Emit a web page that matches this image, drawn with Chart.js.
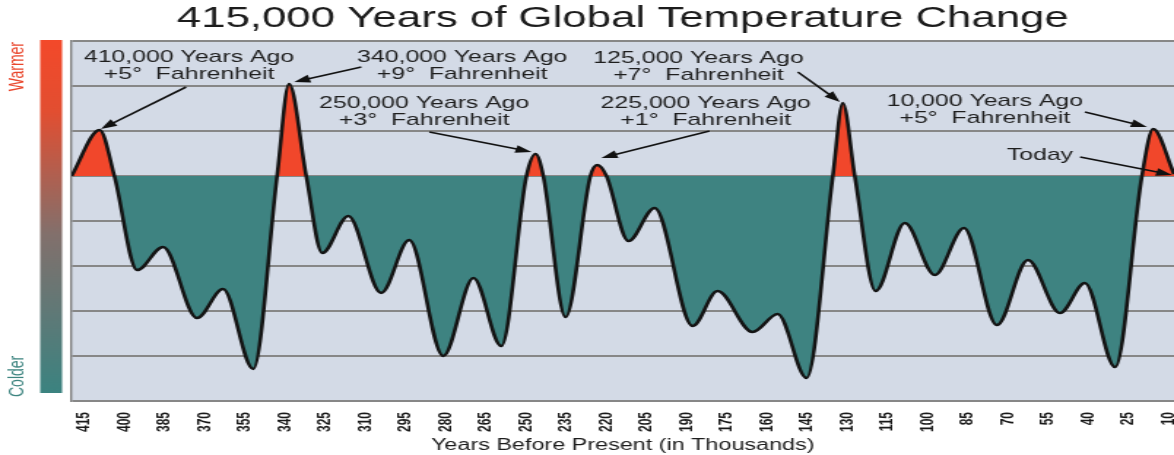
<!DOCTYPE html>
<html>
<head>
<meta charset="utf-8">
<title>415,000 Years of Global Temperature Change</title>
<script src="https://cdn.jsdelivr.net/npm/chart.js@4.4.1/dist/chart.umd.min.js"></script>
<style>
  html, body { margin: 0; padding: 0; background: #fff; overflow: hidden; }
  /* the original picture is stretched sideways, so the whole chart is too */
  #wrap { width: 804px; height: 455px; transform: scaleX(1.4602); transform-origin: 0 0; }
</style>
</head>
<body>
<div id="wrap"><canvas id="chart" width="804" height="455"></canvas></div>
<script>
// thousands of years before present
let years = [420, 409.5, 404, 395.5, 385.8, 373.1, 363.4, 352.1, 343.2, 338.7, 332.3,
             326.3, 316.6, 304.3, 293.8, 281.1, 269.8, 259.4, 250, 246.6, 243.7,
             235.4, 226.1, 223.5, 220.1, 211.9, 202.1, 187.9, 178.6, 165.5, 156.1,
             145.3, 135.5, 131.8, 127.3, 119.5, 108.6, 97.4, 86.5, 74.2, 62.6,
             50.6, 41.3, 30, 20, 15.8, 8]
// degrees Fahrenheit compared with today
let temps = [0, 4.6, 0, -9.4, -7.1, -14.2, -11.3, -19.3, 0, 9.2, 0,
             -7.7, -4.0, -11.7, -6.4, -18.0, -10.2, -17.0, 0, 2.2, 0,
             -14.1, 0, 1.1, 0, -6.5, -3.2, -15.0, -11.5, -15.6, -13.8,
             -20.2, 0, 7.3, 0, -11.5, -4.7, -9.9, -5.2, -14.9, -8.4,
             -13.7, -10.7, -19.1, 0, 4.7, 0.2]

let tickYears = [415, 400, 385, 370, 355, 340, 325, 310, 295, 280, 265, 250, 235, 220,
                 205, 190, 175, 160, 145, 130, 115, 100, 85, 70, 55, 40, 25, 10]

// text, where it sits (years, degrees) and where its arrow goes
let notes = [
  { lines: ['410,000 Years Ago', '+5°  Fahrenheit'], at: [376.1, 11.9], from: [377.2, 8.9], to: [409, 4.7] },
  { lines: ['340,000 Years Ago', '+9°  Fahrenheit'], at: [274.0, 11.9], from: [311.7, 10.9], to: [336.8, 9.4] },
  { lines: ['250,000 Years Ago', '+3°  Fahrenheit'], at: [288.2, 7.3], from: [286.3, 4.4], to: [248.1, 2.4] },
  { lines: ['225,000 Years Ago', '+1°  Fahrenheit'], at: [183.0, 7.3], from: [181.6, 4.5], to: [222, 1.8] },
  { lines: ['125,000 Years Ago', '+7°  Fahrenheit'], at: [185.7, 11.8], from: [148.6, 10.4], to: [132.9, 7.4] },
  { lines: ['10,000 Years Ago', '+5°  Fahrenheit'], at: [78.7, 7.5], from: [41.3, 6.4], to: [18.1, 4.9] },
  { lines: ['Today'], at: [58.1, 2.1], from: [43.1, 1.9], to: [8.7, 0.1] }
]

Chart.defaults.font.family = '"Liberation Sans", Arial, sans-serif'
Chart.defaults.color = '#222'

let points = years.map((y, i) => ({ x: y, y: temps[i] }))

let backdrop = {
  id: 'backdrop',
  beforeDraw(chart) {
    let ctx = chart.ctx
    let a = chart.chartArea
    ctx.save()
    ctx.fillStyle = '#d3dae6'
    ctx.fillRect(a.left, a.top, a.right - a.left, a.bottom - a.top)

    let g = ctx.createLinearGradient(0, a.top, 0, a.bottom - 8)
    g.addColorStop(0, '#f3492a')
    g.addColorStop(0.2, '#e24e31')
    g.addColorStop(0.55, '#82706c')
    g.addColorStop(0.8, '#5b7a78')
    g.addColorStop(1, '#3b8380')
    ctx.fillStyle = g
    ctx.fillRect(27.5, a.top - 1, 15, a.bottom - a.top - 7)

    ctx.font = '14px "Liberation Sans", Arial, sans-serif'
    ctx.textBaseline = 'middle'
    ctx.save()
    ctx.translate(12.5, a.top + 1)
    ctx.rotate(-Math.PI / 2)
    ctx.textAlign = 'right'
    ctx.fillStyle = '#e9462c'
    ctx.fillText('Warmer', 0, 0)
    ctx.restore()
    ctx.save()
    ctx.translate(12.5, a.bottom - 4)
    ctx.rotate(-Math.PI / 2)
    ctx.textAlign = 'left'
    ctx.fillStyle = '#3e8580'
    ctx.fillText('Colder', 0, 0)
    ctx.restore()
    ctx.restore()
  }
}

let callouts = {
  id: 'callouts',
  afterDatasetsDraw(chart) {
    let ctx = chart.ctx
    let sx = chart.scales.x
    let sy = chart.scales.y
    ctx.save()
    ctx.font = '17px "Liberation Sans", Arial, sans-serif'
    ctx.fillStyle = '#1e1e1e'
    ctx.strokeStyle = '#111'
    ctx.textAlign = 'center'
    ctx.textBaseline = 'middle'
    notes.forEach(n => {
      let tx = sx.getPixelForValue(n.at[0])
      let ty = sy.getPixelForValue(n.at[1])
      n.lines.forEach((l, i) => ctx.fillText(l, tx, ty + i * 17))

      let x1 = sx.getPixelForValue(n.from[0]), y1 = sy.getPixelForValue(n.from[1])
      let x2 = sx.getPixelForValue(n.to[0]), y2 = sy.getPixelForValue(n.to[1])
      let ang = Math.atan2(y2 - y1, x2 - x1)
      let len = 11, half = 4
      ctx.lineWidth = 1.6
      ctx.beginPath()
      ctx.moveTo(x1, y1)
      ctx.lineTo(x2 - Math.cos(ang) * len * 0.8, y2 - Math.sin(ang) * len * 0.8)
      ctx.stroke()
      ctx.beginPath()
      ctx.moveTo(x2, y2)
      ctx.lineTo(x2 - Math.cos(ang) * len - Math.sin(ang) * half, y2 - Math.sin(ang) * len + Math.cos(ang) * half)
      ctx.lineTo(x2 - Math.cos(ang) * len + Math.sin(ang) * half, y2 - Math.sin(ang) * len - Math.cos(ang) * half)
      ctx.closePath()
      ctx.fillStyle = '#111'
      ctx.fill()
      ctx.fillStyle = '#1e1e1e'
    })
    ctx.restore()
  }
}

new Chart(document.getElementById('chart'), {
  type: 'line',
  data: {
    datasets: [{
      data: points,
      borderColor: '#141414',
      borderWidth: 2.6,
      pointRadius: 0,
      cubicInterpolationMode: 'monotone',
      fill: { target: { value: 0 }, above: '#f1472b', below: '#3e8381' }
    }]
  },
  options: {
    responsive: false,
    animation: false,
    layout: { padding: { left: 49, right: 0, top: 0, bottom: 0 } },
    plugins: {
      legend: { display: false },
      tooltip: { enabled: false },
      title: {
        display: true,
        fullSize: false,
        text: '415,000 Years of Global Temperature Change',
        color: '#1c1c1c',
        font: { size: 30, weight: 'normal' },
        padding: { top: 1, bottom: 4 }
      }
    },
    scales: {
      x: {
        type: 'linear',
        reverse: true,
        min: 8,
        max: 420,
        afterBuildTicks: axis => { axis.ticks = tickYears.map(v => ({ value: v })) },
        afterFit: axis => { axis.height = 54; axis.paddingLeft = 0; axis.paddingRight = 0 },
        grid: { display: false },
        border: { display: false },
        ticks: {
          autoSkip: false,
          minRotation: 90,
          maxRotation: 90,
          padding: 3,
          color: '#1a1a1a',
          font: { size: 12, weight: 'bold' },
          callback: v => String(v)
        },
        title: {
          display: true,
          text: 'Years Before Present (in Thousands)',
          color: '#1c1c1c',
          font: { size: 16 },
          padding: { top: 4, bottom: 0 }
        }
      },
      y: {
        min: -22.5,
        max: 13.5,
        afterBuildTicks: axis => {
          let t = []
          for (let v = -22.5; v <= 13.5; v += 4.5) t.push({ value: v })
          axis.ticks = t
        },
        grid: { color: '#878787', lineWidth: 2, drawTicks: false },
        border: { display: true, color: '#808080', width: 1.4 },
        ticks: { display: false }
      }
    }
  },
  plugins: [backdrop, callouts]
})
</script>
</body>
</html>
